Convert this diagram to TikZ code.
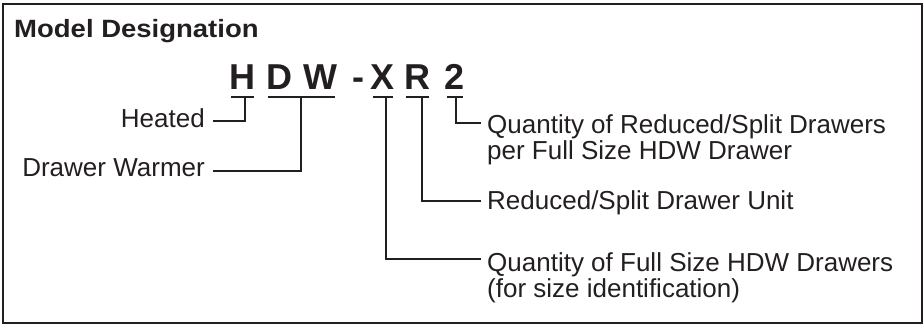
\documentclass[tikz,border=0pt]{standalone}
\usepackage{fontspec}
\setmainfont{Liberation Sans}
\definecolor{ink}{RGB}{35,31,32}
\begin{document}
\begin{tikzpicture}[x=1pt, y=-1pt, color=ink,
    lbl/.style={inner sep=0pt, align=left, font=\fontsize{26}{26}\selectfont},
    letter/.style={inner sep=0pt, anchor=base, font=\bfseries\fontsize{36}{36}\selectfont},
    lead/.style={line width=1.4pt}]
    \useasboundingbox (0,0) rectangle (924,326);
    \draw[line width=1.8pt] (3,4) rectangle (922,323);
    \node[anchor=base west, inner sep=0pt, font=\bfseries\fontsize{25}{25}\selectfont] (title) at (14,38) {\scalebox{1.1}[1]{Model Designation}};

    % model code, one node per letter
    \node[letter] (cH) at (242.5,90) {H};
    \node[letter] (cD) at (279,90) {D};
    \node[letter] (cW) at (320,90) {W};
    \node[letter] (cDash) at (358,90) {-};
    \node[letter] (cX) at (383,90) {X};
    \node[letter] (cR) at (417.5,90) {R};
    \node[letter] (c2) at (455,90) {2};

    % underlines
    \coordinate (ul) at (0,97);
    \draw[lead, shorten <=2pt, shorten >=2pt] (cH.west |- ul) -- (cH.east |- ul);
    \draw[lead, shorten <=2pt, shorten >=2pt] (cD.west |- ul) -- (cW.east |- ul);
    \draw[lead, shorten <=2pt, shorten >=2pt] (cX.west |- ul) -- (cX.east |- ul);
    \draw[lead, shorten <=2pt, shorten >=2pt] (cR.west |- ul) -- (cR.east |- ul);
    \draw[lead, shorten <=2pt, shorten >=2pt] (c2.west |- ul) -- (c2.east |- ul);
    \coordinate (uH) at (245,97);
    \coordinate (uDW) at (301,97);
    \coordinate (uX) at (386,97);
    \coordinate (uR) at (422,97);
    \coordinate (u2) at (456,97);

    % labels on the left
    \node[lbl, anchor=base east] (heated) at (205,128) {Heated};
    \node[lbl, anchor=base east] (warmer) at (205,177) {Drawer Warmer};
    \draw[lead] (uH) |- ([shift={(8,-7)}]heated.base east);
    \draw[lead] (uDW) |- ([shift={(8,-6)}]warmer.base east);

    % labels on the right
    \node[lbl, anchor=north west] (qty2) at (487,114) {Quantity of Reduced/Split Drawers\\per Full Size HDW Drawer};
    \node[lbl, anchor=base west] (unit) at (487,209) {Reduced/Split Drawer Unit};
    \node[lbl, anchor=north west] (qtyX) at (487,252) {Quantity of Full Size HDW Drawers\\(for size identification)};
    \draw[lead] (u2) |- ([shift={(-6,9)}]qty2.north west);
    \draw[lead] (uR) |- ([shift={(-6,-8)}]unit.base west);
    \draw[lead] (uX) |- ([shift={(-6,7)}]qtyX.north west);
\end{tikzpicture}
\end{document}
